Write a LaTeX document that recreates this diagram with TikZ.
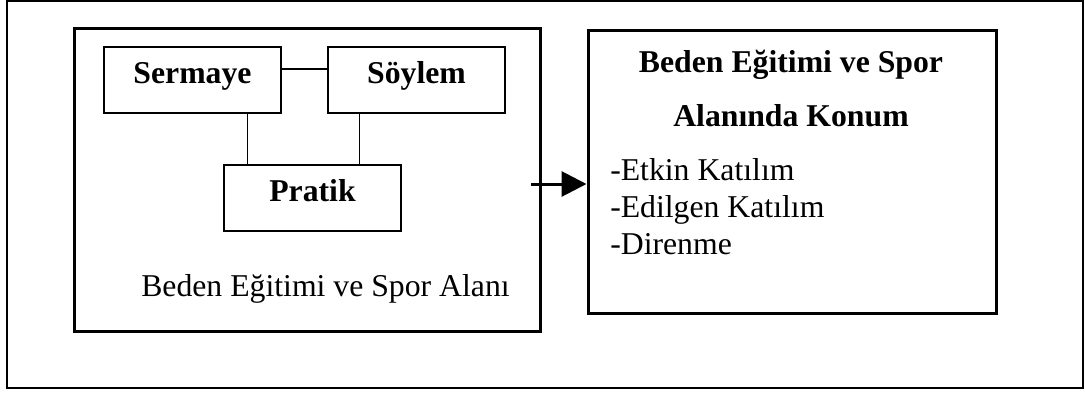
\documentclass[tikz,border=0pt]{standalone}
\usepackage{fontspec}
\setmainfont{Liberation Serif}
\usetikzlibrary{arrows.meta}
\begin{document}
\begin{tikzpicture}[x=0.75pt,y=-0.75pt,
  txt/.style={font=\fontsize{23.8}{28}\selectfont, inner sep=0pt},
  btxt/.style={font=\fontsize{23.8}{28}\selectfont\bfseries, inner sep=0pt},
  smallbox/.style={draw, line width=1pt, minimum width=132.75pt, minimum height=49.5pt, inner sep=0pt,
     font=\fontsize{23.8}{28}\selectfont\bfseries, text height=0.68em, text depth=0.2em},
  bigbox/.style={draw, line width=2.25pt, inner sep=0pt},
  frame/.style={draw, line width=1.3pt, inner sep=0pt}]
\useasboundingbox (0,0) rectangle (1085,394);
\node[frame, minimum width=807pt, minimum height=290.25pt] (outer) at (545,194.5) {};
\node[bigbox, minimum width=349.5pt, minimum height=227.25pt] (leftbox) at (307,179.5) {};
\node[bigbox, minimum width=306pt, minimum height=212.25pt] (rightbox) at (792,171.5) {};
\node[smallbox] (sermaye) at (192.5,80) {Sermaye};
\node[smallbox] (soylem) at (416.5,80) {Söylem};
\node[smallbox] (pratik) at (312.5,198) {Pratik};
\draw[line width=1pt] ([yshift=8.25pt]sermaye.east) -- ([yshift=8.25pt]soylem.west);
\draw[line width=1pt] ([xshift=18pt]pratik.north west) coordinate (v1) -- (v1 |- sermaye.south);
\draw[line width=1pt] ([xshift=24pt]soylem.south west) coordinate (v2) -- (v2 |- pratik.north);
\node[txt, anchor=base west] (alan) at (141,296) {Beden Eğitimi ve Spor Alanı};
\node[btxt, anchor=base] (title1) at (791,72) {Beden Eğitimi ve Spor};
\node[btxt, anchor=base] (title2) at (791,126) {Alanında Konum};
\node[txt, anchor=base west] (l1) at (610,180) {-Etkin Katılım};
\node[txt, anchor=base west] (l2) at (610,217) {-Edilgen Katılım};
\node[txt, anchor=base west] (l3) at (610,254) {-Direnme};
\coordinate (arrstart) at (531,184);
\draw[line width=2.25pt, -{Triangle[length=18.75pt,width=18.75pt]}] (arrstart) -- (arrstart -| rightbox.west);
\end{tikzpicture}
\end{document}
